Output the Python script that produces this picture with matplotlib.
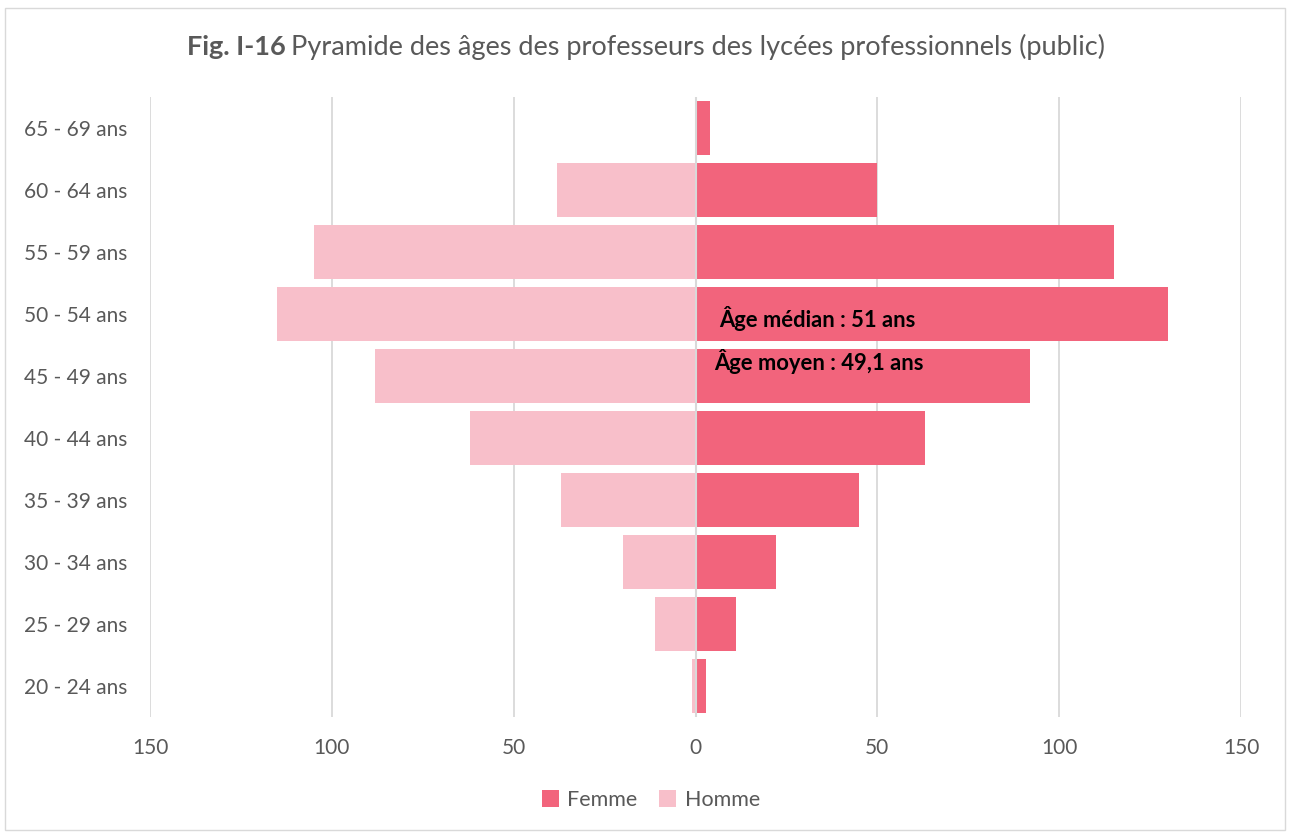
import matplotlib
matplotlib.use("Agg")
import matplotlib.pyplot as plt
from matplotlib.patches import Rectangle

plt.rcParams['font.family'] = ['Lato', 'DejaVu Sans']

categories = ["20 - 24 ans", "25 - 29 ans", "30 - 34 ans", "35 - 39 ans", "40 - 44 ans",
              "45 - 49 ans", "50 - 54 ans", "55 - 59 ans", "60 - 64 ans", "65 - 69 ans"]
femme = [3, 11, 22, 45, 63, 92, 130, 115, 50, 4]
homme = [1, 11, 20, 37, 62, 88, 115, 105, 38, 0]
xticks = [-150, -100, -50, 0, 50, 100, 150]
xticklabels = ["150", "100", "50", "0", "50", "100", "150"]

c_f = "#F2647C"
c_h = "#F8BFCA"
txt = "#595959"

fig = plt.figure(figsize=(12.9, 8.34), dpi=100)
fig.patches.append(Rectangle((5/1290, 4/834), 1280/1290, 822/834, transform=fig.transFigure,
                             fill=False, edgecolor="#d9d9d9", linewidth=1))
ax = fig.add_axes([150/1290, 117/834, 1091/1290, 620/834])

y = list(range(len(categories)))
ax.barh(y, [-h for h in homme], height=0.86, color=c_h, label="Homme", zorder=2)
ax.barh(y, femme, height=0.86, color=c_f, label="Femme", zorder=2)

ax.set_xlim(-150, 150)
ax.set_ylim(-0.5, 9.5)
ax.set_xticks(xticks)
ax.set_xticklabels(xticklabels)
ax.set_yticks(y)
ax.set_yticklabels(categories)
ax.tick_params(axis='both', length=0, labelsize=15, labelcolor=txt)
ax.tick_params(axis='x', pad=15)
ax.tick_params(axis='y', pad=16.5)
for s in ax.spines.values():
    s.set_visible(False)
ax.grid(axis='x', color="#d9d9d9", linewidth=1.3, zorder=0)
ax.axvline(0, color="#d9d9d9", linewidth=1.5, zorder=3)

ax.text(6.5, 5.93, "Âge médian : 51 ans", fontsize=15.8, fontweight='bold', color='black',
        va='center', ha='left', zorder=4)
ax.text(5, 5.23, "Âge moyen : 49,1 ans", fontsize=15.8, fontweight='bold', color='black',
        va='center', ha='left', zorder=4)

fs_title = 19.5
t1 = fig.text(0, 1 - 47/834, "Fig. I-16", fontsize=fs_title, fontweight='bold', color=txt,
              ha='left', va='center')
t2 = fig.text(0, 1 - 47/834, "Pyramide des âges des professeurs des lycées professionnels (public)",
              fontsize=fs_title, color=txt, ha='left', va='center')
fig.canvas.draw()
r = fig.canvas.get_renderer()
w1 = t1.get_window_extent(r).width
w2 = t2.get_window_extent(r).width
gap = 6
x0 = 646 - (w1 + gap + w2) / 2
t1.set_x(x0 / 1290)
t2.set_x((x0 + w1 + gap) / 1290)

handles, labels = ax.get_legend_handles_labels()
order = [1, 0]
fig.legend([handles[i] for i in order], [labels[i] for i in order], loc='center',
           bbox_to_anchor=(651/1290, 1 - 800/834), ncol=2, frameon=False, fontsize=15.5,
           labelcolor=txt, handlelength=0.8, handleheight=0.8, handletextpad=0.4, columnspacing=1.0)

fig.savefig("out.png", dpi=100)
